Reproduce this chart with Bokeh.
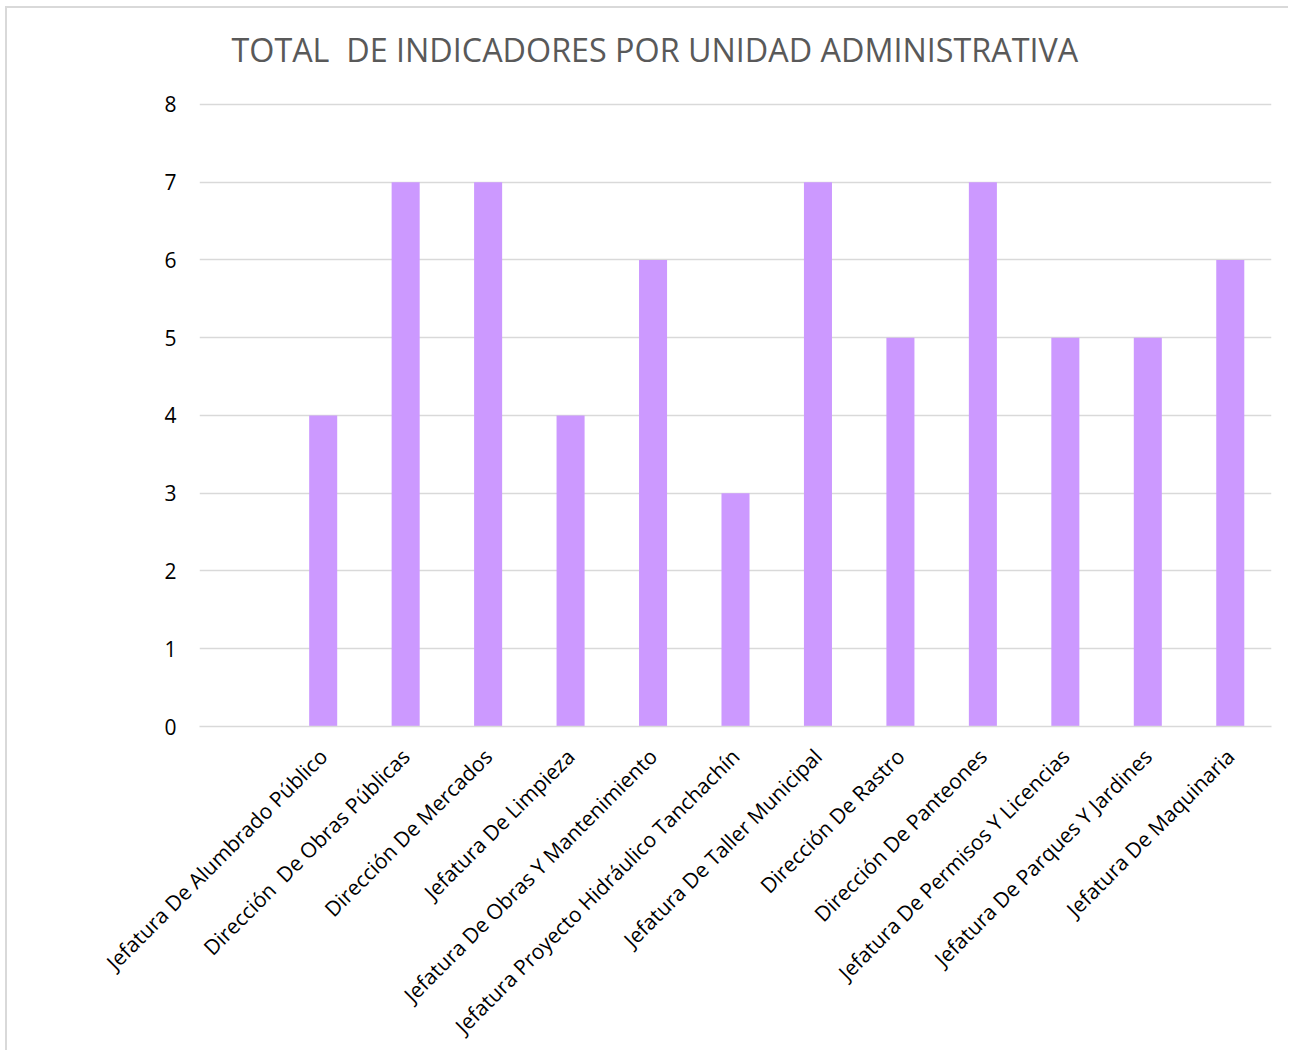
from bokeh.plotting import figure
from bokeh.models import FactorRange, Label
from bokeh.embed import file_html
from bokeh.resources import INLINE

categories = [
    "Jefatura De Alumbrado Público",
    "Dirección \u00a0De Obras Públicas",
    "Dirección De Mercados",
    "Jefatura De Limpieza",
    "Jefatura De Obras Y Mantenimiento",
    "Jefatura Proyecto Hidráulico Tanchachín",
    "Jefatura De Taller Municipal",
    "Dirección De Rastro",
    "Dirección De Panteones",
    "Jefatura De Permisos Y Licencias",
    "Jefatura De Parques Y Jardines",
    "Jefatura De Maquinaria",
]
values = [4, 7, 7, 4, 6, 3, 7, 5, 7, 5, 5, 6]
y_ticks = [0, 1, 2, 3, 4, 5, 6, 7, 8]
title_text = "TOTAL \u00a0DE INDICADORES POR UNIDAD ADMINISTRATIVA"

factors = [" "] + categories

W, H = 1283, 1044
TOP, LEFT, BOTTOM = 26, 192, 322

p = figure(
    x_range=FactorRange(factors=factors, range_padding=0),
    y_range=(0, 8.9),
    width=W, height=H,
    output_backend="svg", toolbar_location=None,
    min_border_left=LEFT, min_border_right=W - LEFT - 1072,
    min_border_top=TOP, min_border_bottom=BOTTOM,
)
p.styles = {"border-left": "2px solid #d9d9d9", "border-top": "2px solid #d9d9d9",
            "margin-left": "5px", "margin-top": "6px"}

p.vbar(x=categories, top=values, width=0.34, color="#CC99FF", line_color=None)

title = Label(x=0.388, y=8.71, text=title_text, text_align="left",
              text_baseline="middle", text_font="Open Sans",
              text_font_size="32.3px", text_color="#595959")
p.add_layout(title)

p.outline_line_color = None
p.xgrid.grid_line_color = None
p.ygrid.grid_line_color = "#D9D9D9"
p.ygrid.grid_line_width = 1.5

p.yaxis.ticker = y_ticks
p.yaxis.axis_line_color = None
p.yaxis.major_tick_line_color = None
p.yaxis.minor_tick_line_color = None
p.yaxis.major_label_text_font = "Open Sans"
p.yaxis.major_label_text_font_size = "21px"
p.yaxis.major_label_text_color = "#000000"
p.yaxis.major_label_standoff = 17

p.xaxis.axis_line_color = "#D9D9D9"
p.xaxis.axis_line_width = 1.5
p.xaxis.major_tick_line_color = None
p.xaxis.minor_tick_line_color = None
p.xaxis.major_label_orientation = 0.785398
p.xaxis.major_label_text_font = "Open Sans"
p.xaxis.major_label_text_font_size = "21px"
p.xaxis.major_label_text_color = "#000000"
p.xaxis.major_label_standoff = 20

open("out.html", "w").write(file_html(p, INLINE))
